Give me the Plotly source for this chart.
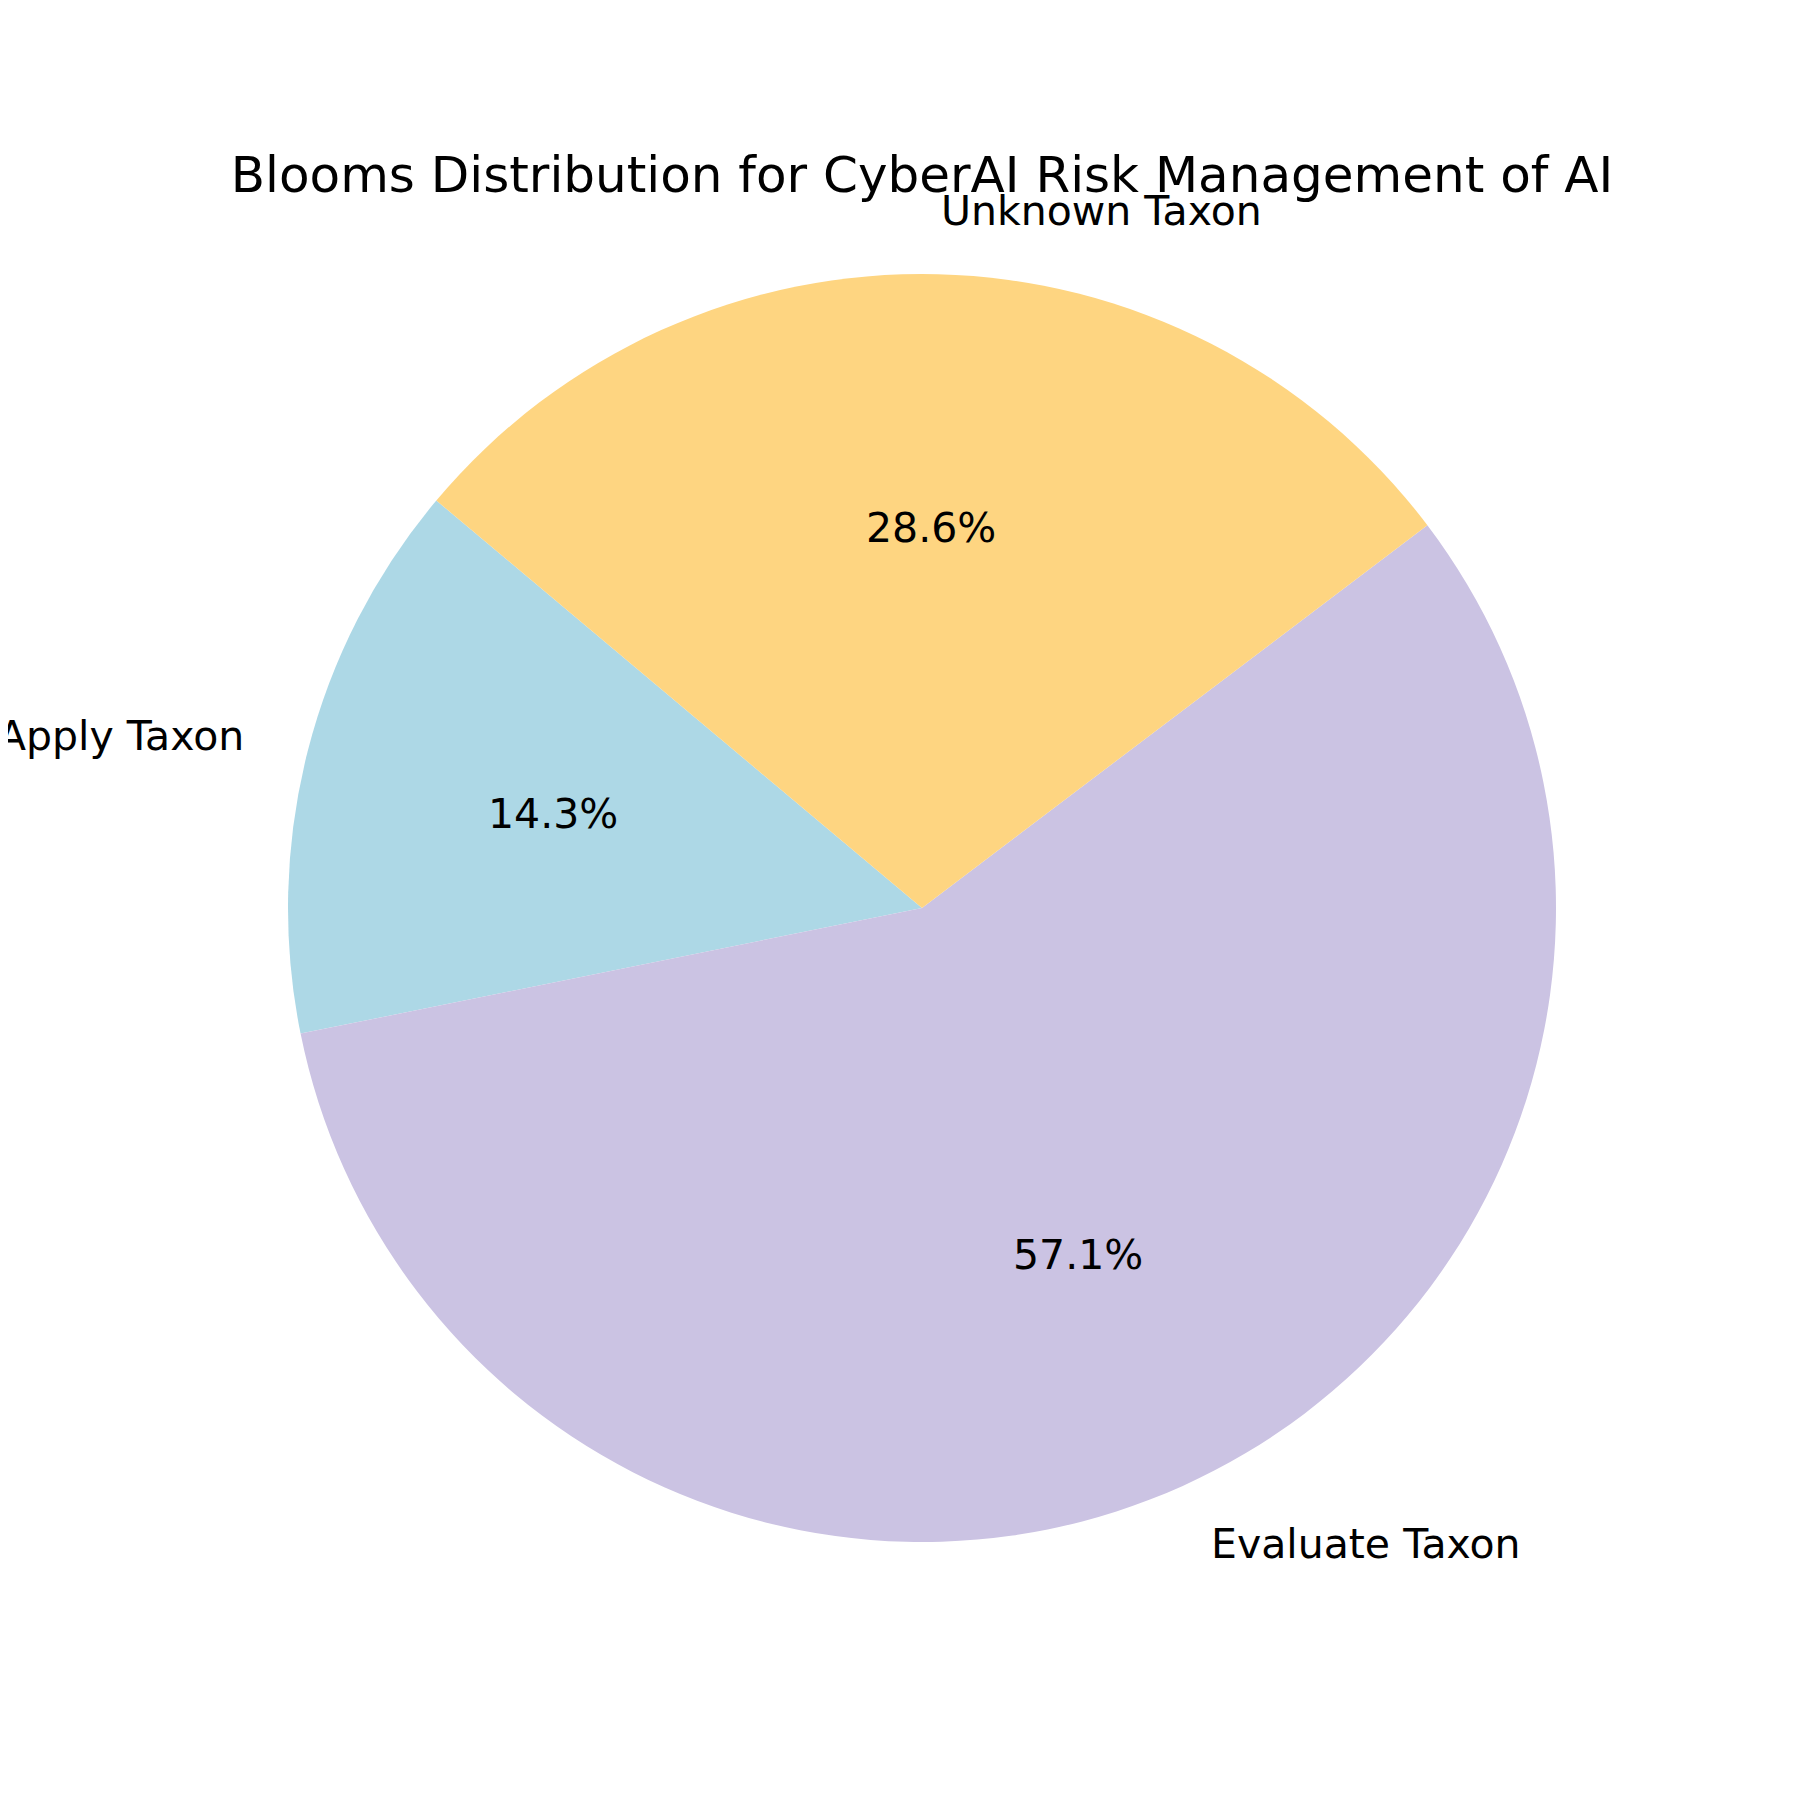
import math
import plotly.graph_objects as go

labels = ["Apply Taxon", "Evaluate Taxon", "Unknown Taxon"]
values = [1, 4, 2]
colors = ["#ADD8E6", "#CBC3E3", "#FED581"]
title_text = "Blooms Distribution for CyberAI Risk Management of AI"

W = H = 1800
cx, cy, R = 914, 900, 634  # pixel centre / radius
start_angle = 140  # degrees, counterclockwise like matplotlib

total = sum(values)
fig = go.Figure()
fig.add_trace(go.Pie(
    labels=labels, values=values, sort=False, direction="counterclockwise",
    rotation=90 - start_angle - 360 * values[0] / total, textinfo="none",
    hoverinfo="label+percent",
    marker=dict(colors=colors, line=dict(width=0)), showlegend=False,
    domain=dict(x=[(cx - R) / W, (cx + R) / W], y=[1 - (cy + R) / H, 1 - (cy - R) / H]),
))

ang = start_angle
annotations = []
for lab, v in zip(labels, values):
    span = 360 * v / total
    mid = math.radians(ang + span / 2)
    ang += span
    c, s = math.cos(mid), math.sin(mid)
    lx, ly = cx + 1.1 * R * c, cy - 1.1 * R * s
    annotations.append(dict(x=lx / W, y=1 - ly / H, xref="paper", yref="paper", text=lab,
                            showarrow=False, xanchor="left" if c > 0 else "right", yanchor="middle",
                            font=dict(size=41, color="black", family="DejaVu Sans")))
    px, py = cx + 0.6 * R * c, cy - 0.6 * R * s
    annotations.append(dict(x=px / W, y=1 - py / H, xref="paper", yref="paper",
                            text=f"{100 * v / total:.1f}%", showarrow=False,
                            xanchor="center", yanchor="middle",
                            font=dict(size=41, color="black", family="DejaVu Sans")))

fig.update_layout(
    width=W, height=H, margin=dict(l=0, r=0, t=0, b=0),
    paper_bgcolor="white", plot_bgcolor="white",
    title=dict(text=title_text, x=cx / W, xanchor="center", y=1 - 166 / H, yanchor="middle",
               font=dict(size=50, color="black", family="DejaVu Sans")),
    annotations=annotations,
)
fig.write_html("out.html")
